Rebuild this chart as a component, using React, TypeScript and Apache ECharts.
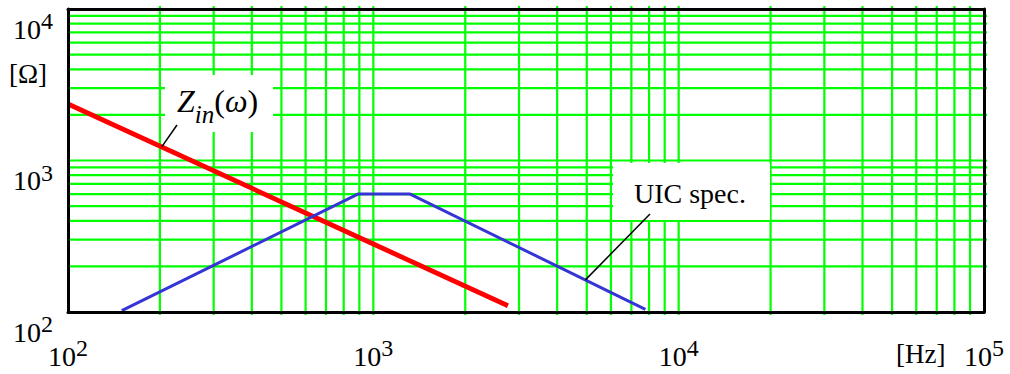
import React, { useEffect, useRef } from 'react';
import * as echarts from 'echarts';

// Data
const zinFreq = [100, 1000, 2760];
const zinOhm = [2360, 281, 110];
const uicFreq = [150, 890, 1320, 7780];
const uicOhm = [102, 600, 600, 104];

// Axis extents
const xMin = 100;
const xMax = 100000;
const yMin = 100;
const yMax = 10000;

// Log grid lines (minor and interior decades)
const xGridValues = [
  200, 300, 400, 500, 600, 700, 800, 900,
  1000, 2000, 3000, 4000, 5000, 6000, 7000, 8000, 9000,
  10000, 20000, 30000, 40000, 50000, 60000, 70000, 80000, 90000,
];
const yGridValues = [
  200, 300, 400, 500, 600, 700, 800, 900,
  1000, 2000, 3000, 4000, 5000, 6000, 7000, 8000, 9000,
];

// Annotation anchors (on the curves)
const zinAnchor = [203, 1235];
const uicAnchor = [4950, 163];

const FONT = '"Liberation Serif", "Times New Roman", serif';

const labelRich = {
  b: { fontFamily: FONT, fontSize: 28, color: '#000', lineHeight: 34, verticalAlign: 'bottom' },
  s: { fontFamily: FONT, fontSize: 24, color: '#000', lineHeight: 16, verticalAlign: 'top' },
};
const powFormatter = (v: number) => '{b|10}{s|' + Math.round(Math.log10(v)) + '}';

export default function App() {
  const ref = useRef<HTMLDivElement>(null);
  useEffect(() => {
    if (!ref.current) return;
    const chart = echarts.init(ref.current, undefined, { renderer: 'svg' });
    const gridStyle = { stroke: '#00ff00', lineWidth: 2.2 };
    const option: any = {
      animation: false,
      backgroundColor: '#fff',
      grid: { left: 68, top: 9, right: 26, bottom: 62, containLabel: false },
      xAxis: [
        {
          type: 'log', logBase: 10, min: xMin, max: xMax, position: 'bottom', z: 6,
          axisLine: { show: true, onZero: false, lineStyle: { color: '#000', width: 3 } },
          axisTick: { show: false },
          splitLine: { show: false },
          axisLabel: {
            show: true, margin: 24, verticalAlign: 'top', formatter: powFormatter, rich: labelRich,
            fontFamily: FONT, fontSize: 28, color: '#000',
            showMinLabel: true, showMaxLabel: true, hideOverlap: false,
          },
        },
        {
          type: 'log', logBase: 10, min: xMin, max: xMax, position: 'top', z: 6,
          axisLine: { show: true, onZero: false, lineStyle: { color: '#000', width: 3 } },
          axisTick: { show: false }, splitLine: { show: false }, axisLabel: { show: false },
        },
      ],
      yAxis: [
        {
          type: 'log', logBase: 10, min: yMin, max: yMax, position: 'left', z: 6,
          axisLine: { show: true, onZero: false, lineStyle: { color: '#000', width: 3 } },
          axisTick: { show: false },
          splitLine: { show: false },
          axisLabel: {
            show: true, margin: 15, align: 'right', verticalAlign: 'top', formatter: powFormatter, rich: labelRich,
            fontFamily: FONT, fontSize: 28, color: '#000',
            showMinLabel: true, showMaxLabel: true, hideOverlap: false,
          },
        },
        {
          type: 'log', logBase: 10, min: yMin, max: yMax, position: 'right', z: 6,
          axisLine: { show: true, onZero: false, lineStyle: { color: '#000', width: 3 } },
          axisTick: { show: false }, splitLine: { show: false }, axisLabel: { show: false },
        },
      ],
      series: [
        {
          type: 'custom', z: 1, silent: true, clip: false,
          data: xGridValues.map((v) => [v, 1000]),
          renderItem: (params: any, api: any) => {
            const v = api.value(0);
            const p1 = api.coord([v, yMin]);
            const p2 = api.coord([v, yMax]);
            return { type: 'line', shape: { x1: p1[0], y1: p1[1] + 3, x2: p2[0], y2: p2[1] - 3 }, style: gridStyle };
          },
        },
        {
          type: 'custom', z: 1, silent: true, clip: false,
          data: yGridValues.map((v) => [1000, v]),
          renderItem: (params: any, api: any) => {
            const v = api.value(1);
            const p1 = api.coord([xMin, v]);
            const p2 = api.coord([xMax, v]);
            return { type: 'line', shape: { x1: p1[0], y1: p1[1], x2: p2[0] + 3, y2: p2[1] }, style: gridStyle };
          },
        },
        {
          name: 'Zin', type: 'line', z: 5, symbol: 'none',
          data: zinFreq.map((f, i) => [f, zinOhm[i]]),
          lineStyle: { color: '#ff0000', width: 4.8 },
        },
        {
          name: 'UIC spec.', type: 'line', z: 5, symbol: 'none',
          data: uicFreq.map((f, i) => [f, uicOhm[i]]),
          lineStyle: { color: '#3535d5', width: 3 },
        },
      ],
    };
    chart.setOption(option);

    const za = chart.convertToPixel({ gridIndex: 0 }, zinAnchor) as number[];
    const ua = chart.convertToPixel({ gridIndex: 0 }, uicAnchor) as number[];

    chart.setOption({
      graphic: [
        { type: 'rect', z: 3, shape: { x: 165, y: 75, width: 108, height: 57 }, style: { fill: '#fff' } },
        { type: 'rect', z: 3, shape: { x: 613, y: 163, width: 157, height: 57 }, style: { fill: '#fff' } },
        {
          type: 'text', z: 4, x: 177, y: 85,
          style: {
            text: '{z|Z}{sub|in}{p|(}{w|ω}{p|)}',
            align: 'left', verticalAlign: 'top', textAlign: 'left', textVerticalAlign: 'top',
            rich: {
              z: { fontFamily: FONT, fontStyle: 'italic', fontSize: 32, lineHeight: 42, verticalAlign: 'top', fill: '#000' },
              sub: { fontFamily: FONT, fontStyle: 'italic', fontSize: 25, lineHeight: 25, verticalAlign: 'bottom', fill: '#000' },
              p: { fontFamily: FONT, fontSize: 32, lineHeight: 42, verticalAlign: 'top', fill: '#000' },
              w: { fontFamily: FONT, fontStyle: 'italic', fontSize: 32, lineHeight: 42, verticalAlign: 'top', fill: '#000' },
            },
          },
        },
        {
          type: 'text', z: 4, x: 634, y: 193,
          style: { text: 'UIC spec.', fontFamily: FONT, fontSize: 28, fill: '#000', align: 'left', verticalAlign: 'middle', textAlign: 'left', textVerticalAlign: 'middle' },
        },
        {
          type: 'text', z: 4, x: 9, y: 74,
          style: { text: '[Ω]', fontFamily: FONT, fontSize: 27, fill: '#000', align: 'left', verticalAlign: 'middle', textAlign: 'left', textVerticalAlign: 'middle' },
        },
        {
          type: 'text', z: 4, x: 896, y: 354,
          style: { text: '[Hz]', fontFamily: FONT, fontSize: 27, fill: '#000', align: 'left', verticalAlign: 'middle', textAlign: 'left', textVerticalAlign: 'middle' },
        },
        {
          type: 'line', z: 6,
          shape: { x1: 177, y1: 125, x2: za[0], y2: za[1] },
          style: { stroke: '#000', lineWidth: 1.5 },
        },
        {
          type: 'line', z: 6,
          shape: { x1: 650, y1: 214, x2: ua[0], y2: ua[1] },
          style: { stroke: '#000', lineWidth: 1.5 },
        },
      ],
    });

    return () => chart.dispose();
  }, []);
  return <div ref={ref} style={{ position: 'fixed', left: 0, top: 0, width: 1010, height: 374 }} />;
}
